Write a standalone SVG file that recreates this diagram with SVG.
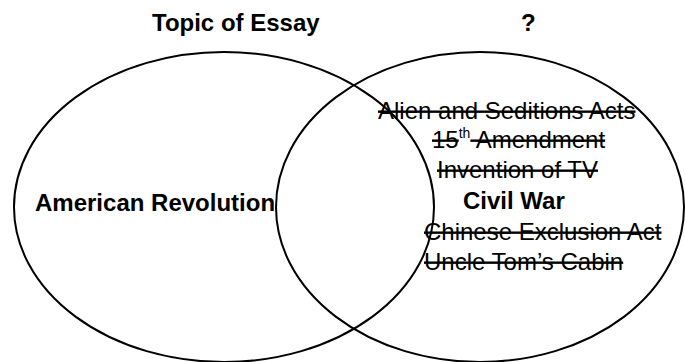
<svg xmlns="http://www.w3.org/2000/svg" width="685" height="362" viewBox="0 0 685 362">
<style>
.circ{fill:none;stroke:#000;stroke-width:2}
text{font-family:"Liberation Sans",Arial,sans-serif;font-size:24px;fill:#000}
.b{font-weight:bold}
.s{text-decoration:line-through}
</style>
<rect width="685" height="362" fill="#fff"/>
<g id="headings">
<text class="b" x="152" y="31">Topic of Essay</text>
<text class="b" x="521" y="31">?</text>
</g>
<g id="set-topic">
<ellipse class="circ" cx="224" cy="207" rx="210" ry="155"/>
<text class="b" x="35" y="211">American Revolution</text>
</g>
<g id="set-unknown">
<ellipse class="circ" cx="480" cy="207" rx="204" ry="155"/>
<text class="s" x="378" y="119">Alien and Seditions Acts</text>
<text x="432" y="148"><tspan class="s">15</tspan><tspan font-size="14" dy="-10">th</tspan><tspan class="s" dy="10"> Amendment</tspan></text>
<text class="s" x="437" y="178">Invention of TV</text>
<text class="b" x="463" y="209">Civil War</text>
<text class="s" x="424" y="240">Chinese Exclusion Act</text>
<text class="s" x="424" y="270">Uncle Tom’s Cabin</text>
</g>
<g id="connectors"></g>
</svg>
